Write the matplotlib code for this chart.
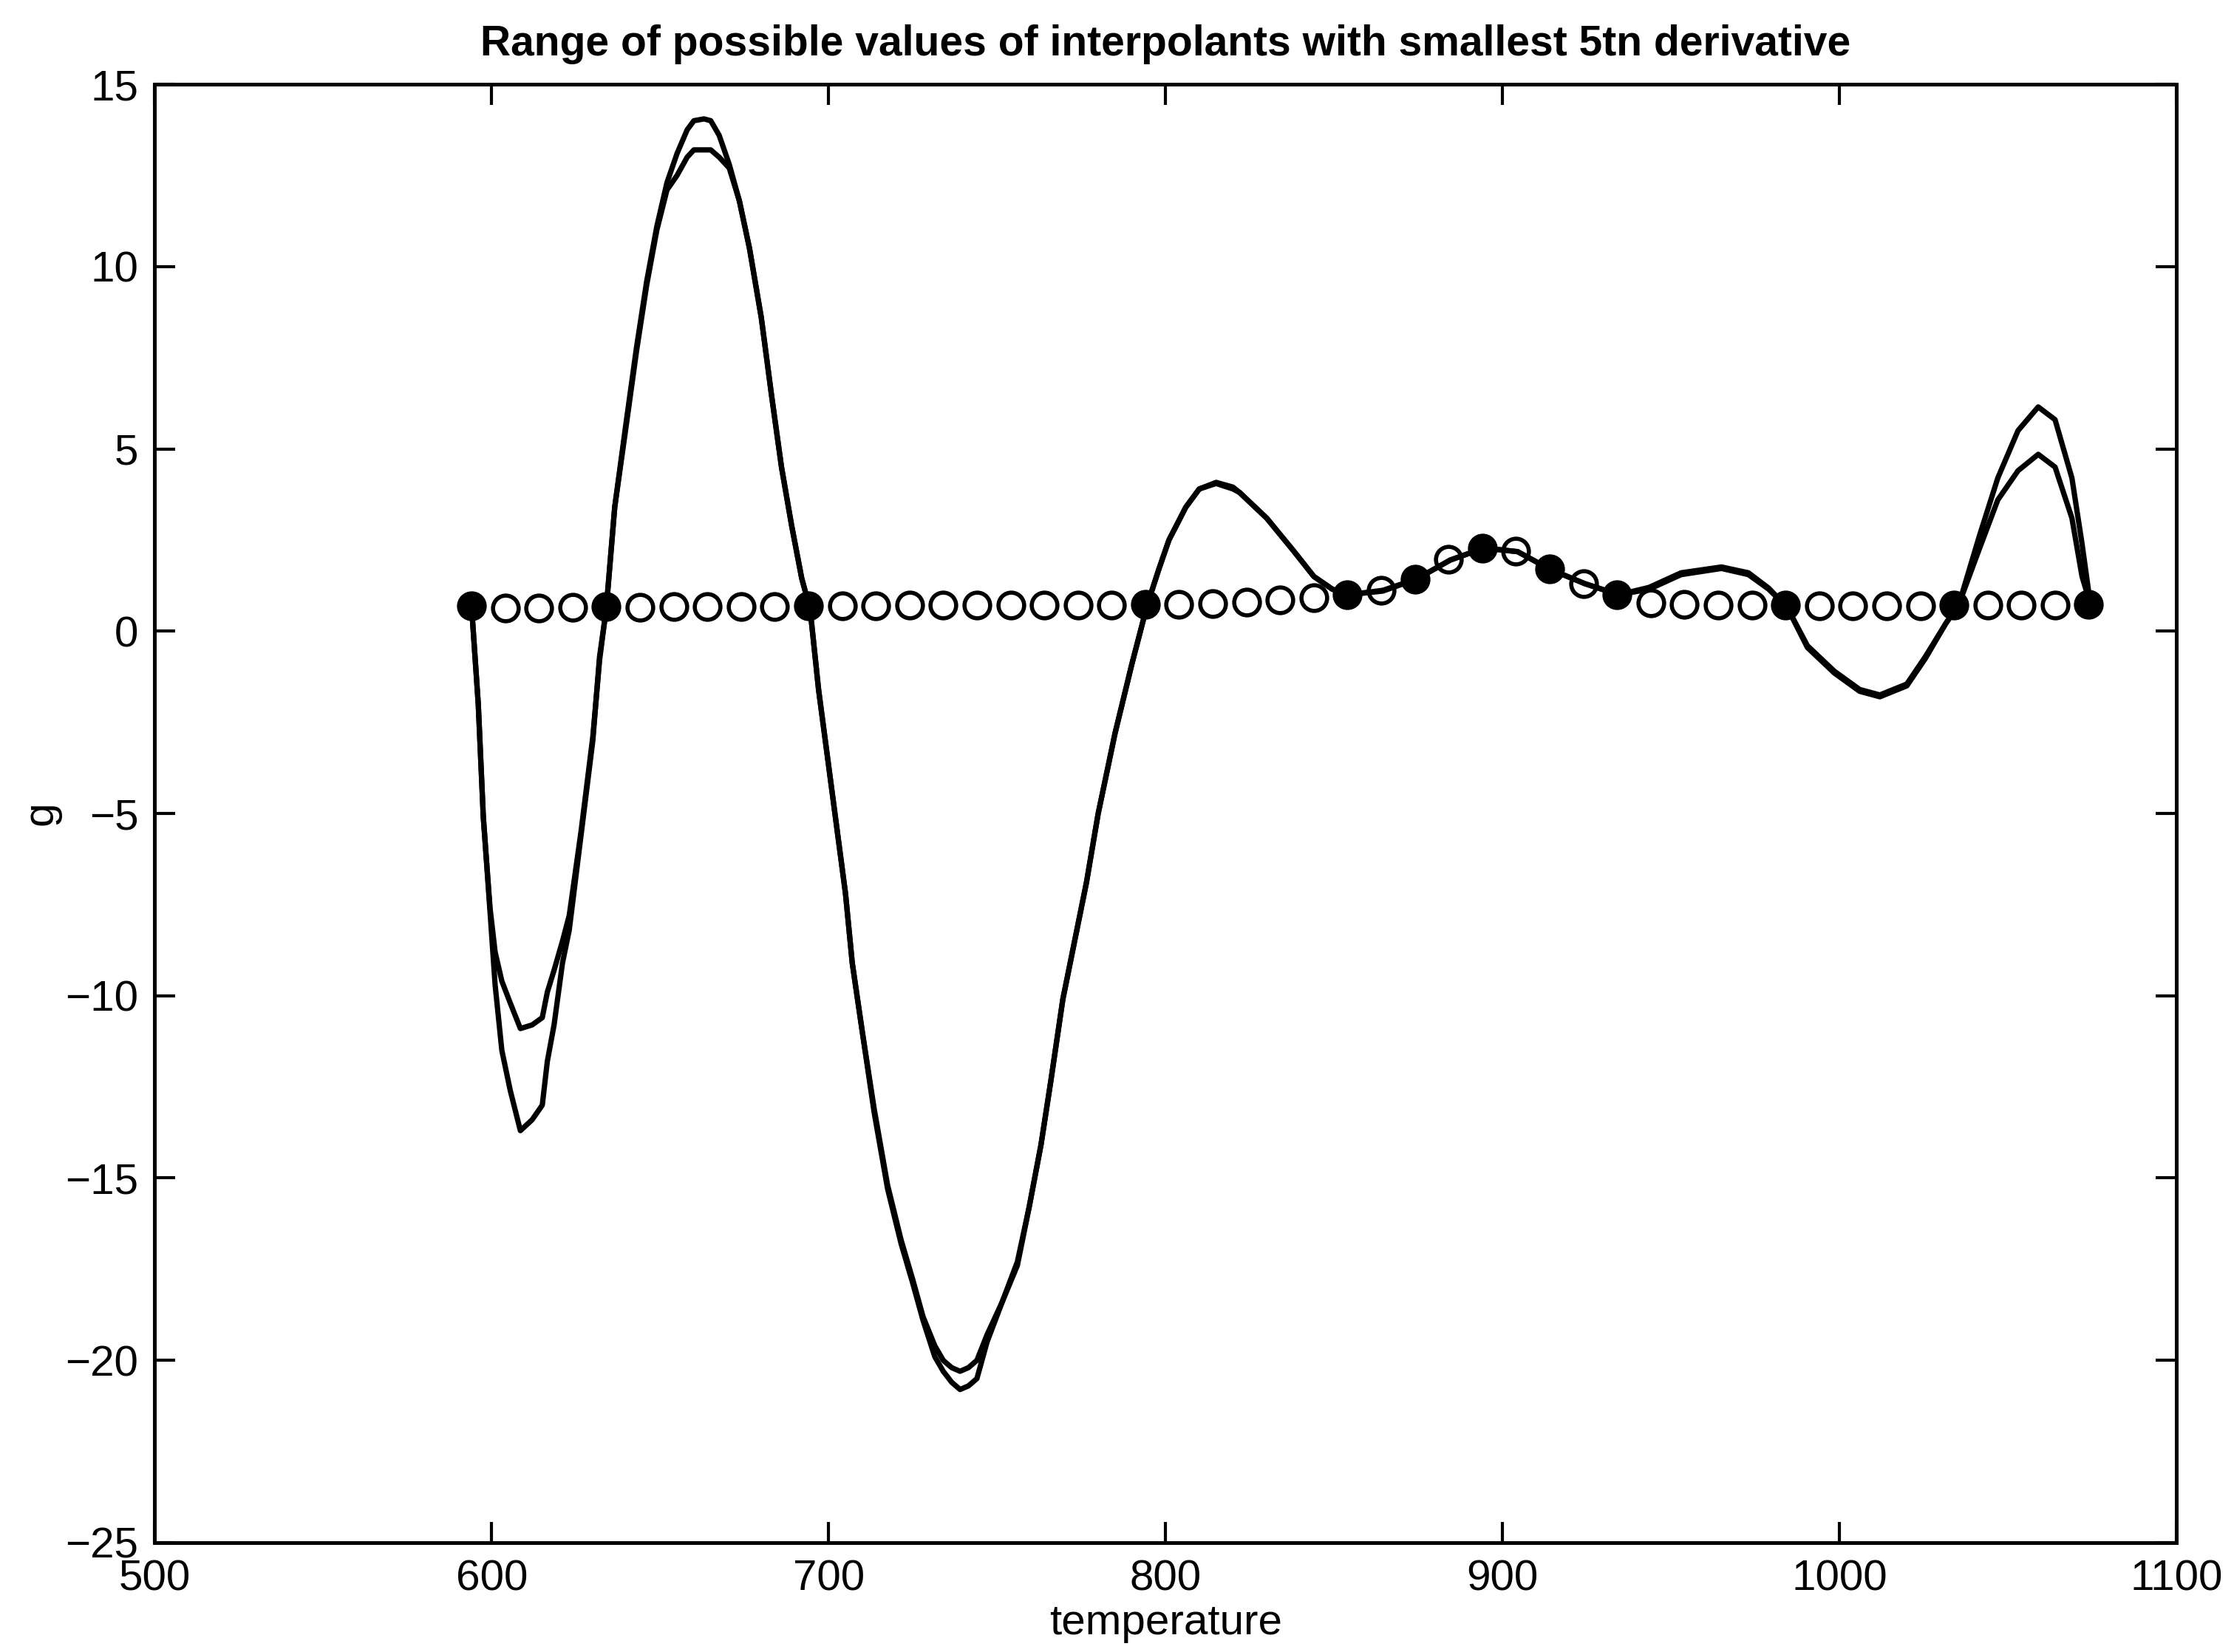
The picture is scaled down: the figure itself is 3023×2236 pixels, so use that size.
"""
Range of possible interpolant values (smallest 5th derivative).
"""

import matplotlib
matplotlib.use("Agg")
import matplotlib.pyplot as plt

plt.rcParams["font.family"] = ["Liberation Sans", "DejaVu Sans"]

# upper / lower interpolant curves
temp_curve = [
    594, 596, 597.5, 599.5, 601, 603, 605.5, 608.5, 612, 615, 616.5, 618.5,
    621, 623, 626.5, 630, 632, 634, 636.5, 640, 643, 646, 649, 652, 655,
    658, 660, 663, 665, 667.5, 670.5, 673.5, 676.5, 680, 683, 686, 689,
    692, 694.5, 697, 701, 705, 707, 710, 713.5, 717.5, 721.5, 725, 728,
    731.5, 734, 736.5, 739, 741.5, 744, 747, 751.5, 756, 759.5, 763, 766,
    769.5, 773, 776.5, 780, 785, 790, 794.5, 798, 801, 806, 810, 815, 820,
    822, 830, 838, 844, 849.5, 854.5, 864.5, 874.5, 884.5, 894.5, 904.5,
    914, 924.5, 934.5, 943.5, 953, 965, 973, 979, 984.5, 990.5, 998.5,
    1006, 1012, 1020, 1025.5, 1031.5, 1035.5, 1041.5, 1047, 1053, 1059,
    1064, 1069, 1072, 1074.5,
]
g_upper = [
    0.7, -2.0, -5.1, -7.6, -8.8, -9.6, -10.2, -10.9, -10.8, -10.6, -9.9,
    -9.3, -8.5, -7.8, -5.5, -2.9, -0.8, 0.65, 3.4, 5.8, 7.8, 9.6, 11.1,
    12.3, 13.1, 13.75, 14.0, 14.05, 14.0, 13.6, 12.8, 11.8, 10.5, 8.6, 6.5,
    4.5, 2.9, 1.45, 0.6, -1.6, -4.4, -7.2, -9.1, -11.0, -13.1, -15.2,
    -16.7, -17.8, -18.8, -19.6, -20.0, -20.2, -20.3, -20.2, -20.0, -19.3,
    -18.4, -17.3, -15.8, -14.1, -12.3, -10.1, -8.5, -6.9, -5.0, -2.8, -0.9,
    0.7, 1.7, 2.5, 3.4, 3.9, 4.08, 3.95, 3.8, 3.1, 2.2, 1.5, 1.15, 1.0,
    1.12, 1.43, 1.95, 2.28, 2.18, 1.7, 1.3, 1.0, 1.2, 1.6, 1.76, 1.6, 1.18,
    0.65, -0.4, -1.1, -1.6, -1.75, -1.45, -0.7, 0.2, 0.75, 2.6, 4.2, 5.5,
    6.15, 5.8, 4.2, 2.4, 0.73,
]
g_lower = [
    0.7, -2.0, -5.1, -7.7, -9.7, -11.5, -12.6, -13.7, -13.4, -13.0, -11.8,
    -10.8, -9.1, -8.2, -5.6, -3.0, -0.7, 0.6, 3.4, 5.7, 7.7, 9.5, 11.0,
    12.1, 12.5, 13.0, 13.2, 13.2, 13.2, 13.0, 12.7, 11.8, 10.5, 8.6, 6.5,
    4.5, 2.9, 1.45, 0.6, -1.6, -4.4, -7.2, -9.1, -11.0, -13.2, -15.3,
    -16.8, -17.9, -18.9, -19.9, -20.3, -20.6, -20.8, -20.7, -20.5, -19.5,
    -18.4, -17.4, -15.8, -14.1, -12.3, -10.1, -8.5, -6.9, -5.0, -2.8, -0.9,
    0.7, 1.7, 2.5, 3.4, 3.9, 4.05, 3.9, 3.8, 3.1, 2.2, 1.5, 1.15, 1.0,
    1.1, 1.43, 1.95, 2.28, 2.18, 1.7, 1.3, 1.0, 1.15, 1.55, 1.72, 1.55,
    1.15, 0.65, -0.45, -1.15, -1.65, -1.8, -1.5, -0.75, 0.2, 0.75, 2.25,
    3.6, 4.4, 4.85, 4.5, 3.1, 1.5, 0.73,
]

# sampled values (open circles) every 10 degrees
temp_samples = [594 + 10 * k for k in range(49)]
g_samples = [
    0.70, 0.64, 0.64, 0.66, 0.68, 0.66, 0.67, 0.68, 0.68, 0.68,
    0.70, 0.70, 0.70, 0.71, 0.71, 0.71, 0.72, 0.72, 0.72, 0.72,
    0.73, 0.73, 0.76, 0.80, 0.85, 0.92, 1.00, 1.12, 1.43, 1.97,
    2.28, 2.20, 1.70, 1.31, 1.00, 0.77, 0.73, 0.72, 0.72, 0.72,
    0.70, 0.70, 0.70, 0.70, 0.72, 0.72, 0.72, 0.72, 0.73,
]

# data points (filled circles)
temp_data = [594, 634, 694, 794, 854, 874, 894, 914, 934, 984, 1034, 1074]
g_data = [0.70, 0.68, 0.70, 0.73, 1.00, 1.43, 2.28, 1.70, 1.00, 0.72, 0.72, 0.73]

fig = plt.figure(figsize=(3023 / 200, 2236 / 200), dpi=200)
ax = fig.add_axes([0.0693, 0.0662, 0.9049, 0.8828])

ax.plot(temp_curve, g_upper, color="black", linewidth=2.6)
ax.plot(temp_curve, g_lower, color="black", linewidth=2.6)
ax.plot(temp_samples, g_samples, linestyle="none", marker="o",
        markersize=12.5, markerfacecolor="none", markeredgecolor="black",
        markeredgewidth=2.0)
ax.plot(temp_data, g_data, linestyle="none", marker="o",
        markersize=13, color="black")

ax.set_xlim(500, 1100)
ax.set_ylim(-25, 15)
ax.set_xticks(range(500, 1101, 100))
ax.set_yticks(range(-25, 16, 5))

ax.tick_params(direction="in", length=10, width=1.5, top=True, right=True,
               labelsize=21, pad=8)
for spine in ax.spines.values():
    spine.set_linewidth(1.8)

ax.set_title("Range of possible values of interpolants with smallest 5tn derivative",
             fontsize=20.5, fontweight="bold", pad=14)
ax.set_xlabel("temperature", fontsize=21, labelpad=2)
ax.set_ylabel("g", fontsize=21, labelpad=2)

fig.savefig("out.png", dpi=200)
